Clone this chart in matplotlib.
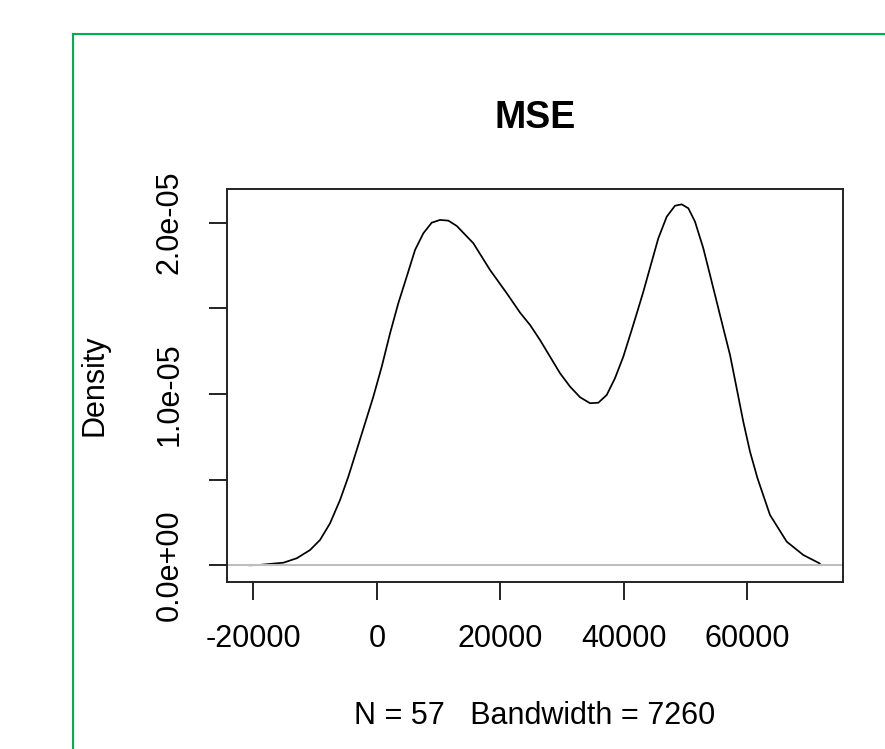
import matplotlib
matplotlib.use('Agg')
from matplotlib import pyplot as plt
from matplotlib.lines import Line2D

# Density curve of MSE (density in units of 1e-5)
mse = [-20600, -19000, -17300, -15140, -12970, -10820, -9200, -7580, -5960,
       -4620, -3260, -1910, -570, 790, 2140, 3480, 4840, 6190, 7530, 8890,
       10230, 11580, 12940, 15630, 18330, 21040, 23190, 24810, 26430, 28050,
       29670, 31290, 32910, 34530, 35870, 37230, 38570, 39920, 41280, 42350,
       43160, 44520, 45590, 46950, 48290, 49380, 50450, 51530, 52870, 53960,
       55040, 56110, 57200, 58280, 59350, 60440, 61650, 63670, 66380, 69070,
       71660, 71850]
density_e5 = [0.0, 0.002, 0.008, 0.015, 0.041, 0.089, 0.148, 0.245, 0.381,
              0.517, 0.673, 0.829, 0.984, 1.159, 1.354, 1.530, 1.685, 1.841,
              1.938, 2.000, 2.016, 2.012, 1.981, 1.880, 1.724, 1.588, 1.475,
              1.403, 1.315, 1.218, 1.121, 1.043, 0.981, 0.946, 0.949, 0.994,
              1.092, 1.218, 1.374, 1.500, 1.597, 1.772, 1.909, 2.035, 2.099,
              2.107, 2.084, 2.006, 1.851, 1.695, 1.539, 1.384, 1.228, 1.033,
              0.838, 0.663, 0.508, 0.294, 0.138, 0.060, 0.012, 0.005]
density = [d * 1e-5 for d in density_e5]

x_ticks = [-20000, 0, 20000, 40000, 60000]
x_tick_labels = ['-20000', '0', '20000', '40000', '60000']
y_ticks = [0, 0.5e-5, 1.0e-5, 1.5e-5, 2.0e-5]
y_tick_labels = ['0.0e+00', '', '1.0e-05', '', '2.0e-05']

plt.rcParams['font.family'] = ['Liberation Sans', 'DejaVu Sans']

fig = plt.figure(figsize=(8.85, 7.49), dpi=100)
ax = fig.add_axes([0.2562, 0.2234, 0.6967, 0.5239])

ax.plot(mse, density, color='black', linewidth=1.25)
ax.axhline(0, color='#bebebe', linewidth=1.5)

ax.set_xlim(-24310, 75550)
ax.set_ylim(-0.0957e-5, 2.195e-5)

ax.set_xticks(x_ticks)
ax.set_xticklabels(x_tick_labels)
ax.set_yticks(y_ticks)
ax.set_yticklabels(y_tick_labels, rotation=90, va='center')
ax.tick_params(axis='both', length=13, width=1.4, labelsize=22, pad=17.5, color='#222222')

for s in ax.spines.values():
    s.set_linewidth(1.4)
    s.set_color('#222222')

ax.set_title('MSE', fontsize=27, fontweight='bold', pad=44)
ax.set_xlabel('N = 57   Bandwidth = 7260', fontsize=22, labelpad=34)
ax.set_ylabel('Density', fontsize=22, labelpad=32)

# green frame from the screenshot
fig.add_artist(Line2D([72.7 / 885, 72.7 / 885], [0, 1 - 34 / 749],
                      color='#00b050', linewidth=1.5, transform=fig.transFigure))
fig.add_artist(Line2D([72.7 / 885, 1], [1 - 34 / 749, 1 - 34 / 749],
                      color='#00b050', linewidth=1.5, transform=fig.transFigure))

fig.savefig('out.png', dpi=100)
